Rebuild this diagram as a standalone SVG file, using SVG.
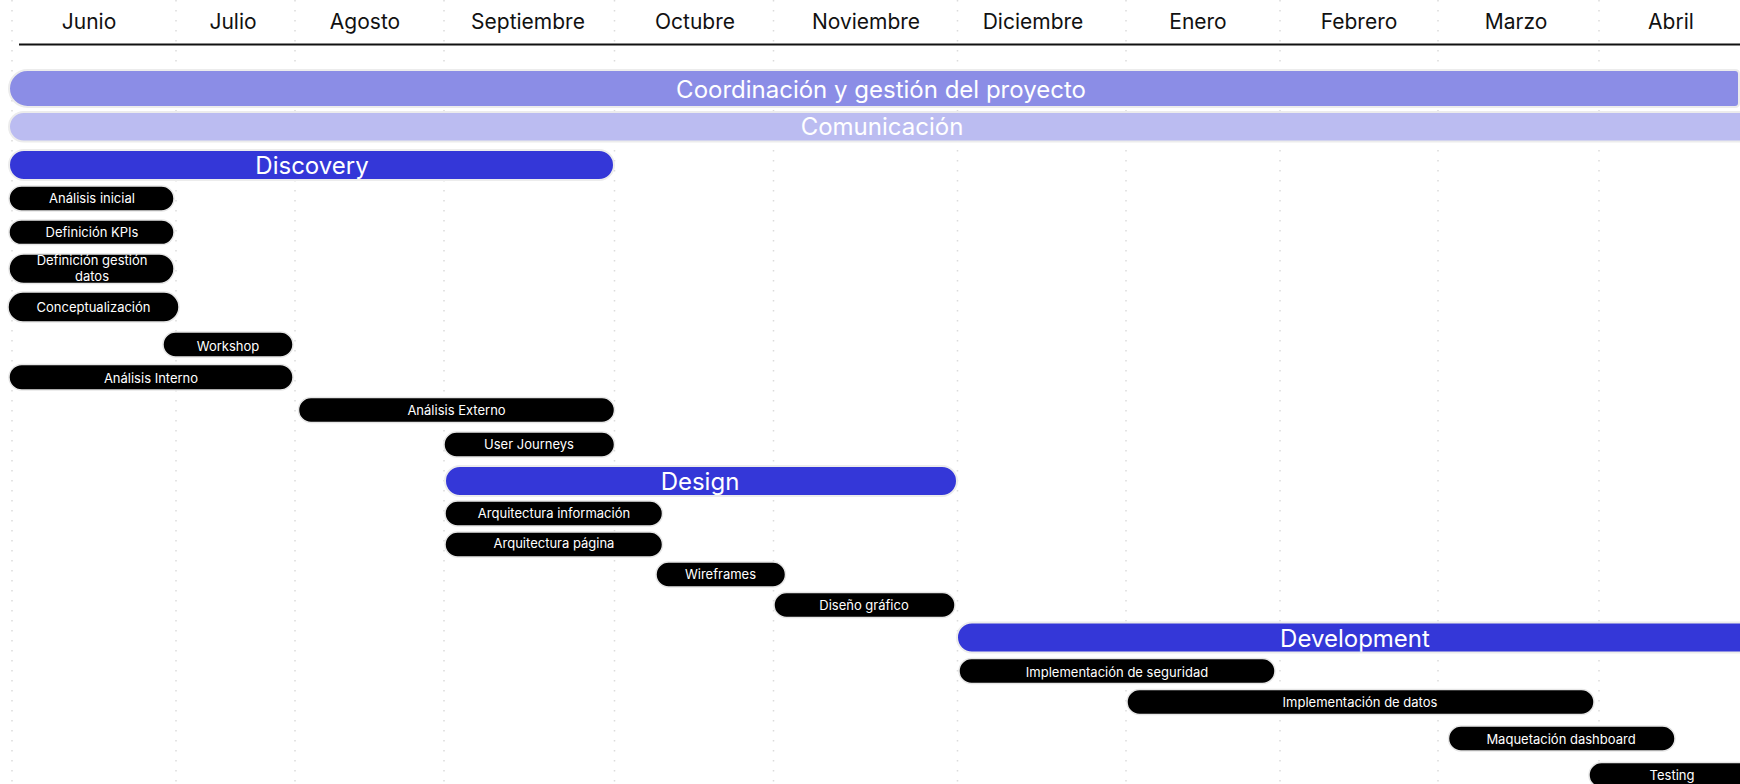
<svg xmlns="http://www.w3.org/2000/svg" width="1740" height="784" viewBox="0 0 1740 784">
<style>
.grid{stroke:#dcdcdc;stroke-width:1.5;stroke-dasharray:1.5 8.5;fill:none}
.month{font-family:Inter,"Liberation Sans",sans-serif;font-size:21px;fill:#111;text-anchor:middle}
.bar{stroke:#ececec;stroke-width:2}
.barlbl{font-family:Inter,"Liberation Sans",sans-serif;font-size:24px;fill:#fff;text-anchor:middle}
.task{fill:#000;stroke:#e6e6e6;stroke-width:1.5}
.tlbl{font-family:Inter,"Liberation Sans",sans-serif;font-size:13px;font-weight:400;fill:#fff;text-anchor:middle}
</style>
<rect width="1740" height="784" fill="#fff"/>
<g id="grid">
<line class="grid" x1="12" y1="0" x2="12" y2="784"/>
<line class="grid" x1="176" y1="0" x2="176" y2="784"/>
<line class="grid" x1="295" y1="0" x2="295" y2="784"/>
<line class="grid" x1="444" y1="0" x2="444" y2="784"/>
<line class="grid" x1="614.5" y1="0" x2="614.5" y2="784"/>
<line class="grid" x1="773.5" y1="0" x2="773.5" y2="784"/>
<line class="grid" x1="957.5" y1="0" x2="957.5" y2="784"/>
<line class="grid" x1="1126" y1="0" x2="1126" y2="784"/>
<line class="grid" x1="1280" y1="0" x2="1280" y2="784"/>
<line class="grid" x1="1438" y1="0" x2="1438" y2="784"/>
<line class="grid" x1="1599" y1="0" x2="1599" y2="784"/>
</g>
<g id="timeline">
<line x1="19" y1="44.5" x2="1740" y2="44.5" stroke="#111" stroke-width="2"/>
<text class="month" x="89" y="29">Junio</text>
<text class="month" x="233" y="29">Julio</text>
<text class="month" x="365" y="29">Agosto</text>
<text class="month" x="528" y="29">Septiembre</text>
<text class="month" x="695" y="29">Octubre</text>
<text class="month" x="866" y="29">Noviembre</text>
<text class="month" x="1033" y="29">Diciembre</text>
<text class="month" x="1198" y="29">Enero</text>
<text class="month" x="1359" y="29">Febrero</text>
<text class="month" x="1516" y="29">Marzo</text>
<text class="month" x="1671" y="29">Abril</text>
</g>
<g id="coordinacion">
<path class="bar" d="M27.5 70 H1735 Q1739 70 1739 74 V103 Q1739 107 1735 107 H27.5 A18.5 18.5 0 0 1 27.5 70 Z" fill="#8B8DE6"/>
<text class="barlbl" x="881" y="98">Coordinación y gestión del proyecto</text>
</g>
<g id="comunicacion">
<rect class="bar" x="9" y="112" width="1760" height="29.5" rx="14.75" fill="#BBBCF1"/>
<text class="barlbl" x="882" y="135">Comunicación</text>
</g>
<g id="discovery">
<rect class="bar" x="9" y="150" width="605" height="30" rx="15" fill="#3437D8"/>
<text class="barlbl" x="312" y="174">Discovery</text>
</g>
<g id="analisis-inicial">
<rect class="task" x="9" y="186" width="165" height="25" rx="12.5"/>
<text class="tlbl" x="92" y="203">Análisis inicial</text>
</g>
<g id="definicion-kpis">
<rect class="task" x="9" y="220" width="165" height="24.5" rx="12.25"/>
<text class="tlbl" x="92" y="236.5">Definición KPIs</text>
</g>
<g id="definicion-gestion-datos">
<rect class="task" x="9" y="254" width="165" height="29.5" rx="14.75"/>
<text class="tlbl" x="92" y="265">Definición gestión</text>
<text class="tlbl" x="92" y="281">datos</text>
</g>
<g id="conceptualizacion">
<rect class="task" x="8" y="292" width="171" height="30" rx="15"/>
<text class="tlbl" x="93.5" y="312">Conceptualización</text>
</g>
<g id="workshop">
<rect class="task" x="163" y="332" width="130" height="25" rx="12.5"/>
<text class="tlbl" x="228" y="350.5">Workshop</text>
</g>
<g id="analisis-interno">
<rect class="task" x="9" y="364.5" width="284" height="25.5" rx="12.75"/>
<text class="tlbl" x="151" y="382.5">Análisis Interno</text>
</g>
<g id="analisis-externo">
<rect class="task" x="298.5" y="397.5" width="316" height="25" rx="12.5"/>
<text class="tlbl" x="456.5" y="415">Análisis Externo</text>
</g>
<g id="user-journeys">
<rect class="task" x="444" y="432" width="170.5" height="25" rx="12.5"/>
<text class="tlbl" x="529" y="449">User Journeys</text>
</g>
<g id="design">
<rect class="bar" x="445" y="466" width="512" height="30" rx="15" fill="#3437D8"/>
<text class="barlbl" x="700" y="490">Design</text>
</g>
<g id="arquitectura-informacion">
<rect class="task" x="445" y="501" width="217.5" height="25" rx="12.5"/>
<text class="tlbl" x="554" y="517.5">Arquitectura información</text>
</g>
<g id="arquitectura-pagina">
<rect class="task" x="445" y="532" width="217.5" height="25" rx="12.5"/>
<text class="tlbl" x="554" y="548">Arquitectura página</text>
</g>
<g id="wireframes">
<rect class="task" x="656" y="562" width="129.5" height="25" rx="12.5"/>
<text class="tlbl" x="720.5" y="579">Wireframes</text>
</g>
<g id="diseno-grafico">
<rect class="task" x="774" y="592.5" width="181" height="25" rx="12.5"/>
<text class="tlbl" x="864" y="610">Diseño gráfico</text>
</g>
<g id="development">
<rect class="bar" x="957" y="622.5" width="820" height="30" rx="15" fill="#3437D8"/>
<text class="barlbl" x="1355" y="647">Development</text>
</g>
<g id="implementacion-seguridad">
<rect class="task" x="959" y="658.5" width="316" height="25" rx="12.5"/>
<text class="tlbl" x="1117" y="676.5">Implementación de seguridad</text>
</g>
<g id="implementacion-datos">
<rect class="task" x="1127" y="689.5" width="467" height="25" rx="12.5"/>
<text class="tlbl" x="1360" y="707">Implementación de datos</text>
</g>
<g id="maquetacion-dashboard">
<rect class="task" x="1448.5" y="726" width="226.5" height="25" rx="12.5"/>
<text class="tlbl" x="1561" y="743.5">Maquetación dashboard</text>
</g>
<g id="testing">
<rect class="task" x="1589" y="762.5" width="180" height="25" rx="12.5"/>
<text class="tlbl" x="1672" y="780">Testing</text>
</g>
</svg>
